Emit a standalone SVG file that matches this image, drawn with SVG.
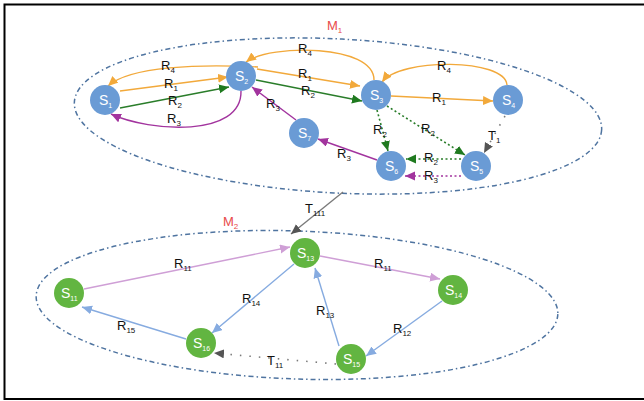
<svg xmlns="http://www.w3.org/2000/svg" width="644" height="401" viewBox="0 0 644 401">
<style>
text{font-family:"Liberation Sans",Arial,sans-serif}
.lbl{font-size:13px;fill:#111}
.sub{font-size:8px}
.nl{font-size:14px;fill:#fff}
.nsub{font-size:7px}
.b{fill:#6a9bd5}
.g{fill:#62b541}
.m{font-size:13px;fill:#e84a4a}
.ell{fill:none;stroke:#4f74a0;stroke-width:1.5;stroke-dasharray:5 3 1.5 3}
.e{fill:none;stroke-width:1.4}
.or{stroke:#f2a93b}
.gr{stroke:#2a7d2a}
.pu{stroke:#a2349e}
.lp{stroke:#cf9fd6}
.lb{stroke:#86abe0}
.gy{stroke:#7a7a7a}
.dot{stroke-dasharray:2 2.5;stroke-width:1.6}
.sp{stroke-dasharray:1.5 8;stroke-width:1.6}
</style>
<defs>
<marker id="aor" markerUnits="userSpaceOnUse" markerWidth="12" markerHeight="10" refX="10" refY="4.5" orient="auto"><path d="M0,0 L10,4.5 L0,9 z" fill="#f2a93b"/></marker>
<marker id="agr" markerUnits="userSpaceOnUse" markerWidth="12" markerHeight="10" refX="10" refY="4.5" orient="auto"><path d="M0,0 L10,4.5 L0,9 z" fill="#1f7a1f"/></marker>
<marker id="apu" markerUnits="userSpaceOnUse" markerWidth="12" markerHeight="10" refX="10" refY="4.5" orient="auto"><path d="M0,0 L10,4.5 L0,9 z" fill="#a2349e"/></marker>
<marker id="alp" markerUnits="userSpaceOnUse" markerWidth="12" markerHeight="10" refX="10" refY="4.5" orient="auto"><path d="M0,0 L10,4.5 L0,9 z" fill="#cf9fd6"/></marker>
<marker id="alb" markerUnits="userSpaceOnUse" markerWidth="12" markerHeight="10" refX="10" refY="4.5" orient="auto"><path d="M0,0 L10,4.5 L0,9 z" fill="#86abe0"/></marker>
<marker id="agy" markerUnits="userSpaceOnUse" markerWidth="12" markerHeight="10" refX="10" refY="4.5" orient="auto"><path d="M0,0 L10,4.5 L0,9 z" fill="#555"/></marker>
</defs>
<rect x="0" y="0" width="644" height="401" fill="#fff"/>
<rect x="4.5" y="4.5" width="650" height="394.5" fill="none" stroke="#000" stroke-width="2"/>
<g id="containers">
<ellipse class="ell" cx="338" cy="116" rx="264" ry="77" transform="rotate(3 338 116)"/>
<ellipse class="ell" cx="297" cy="305" rx="261" ry="74" transform="rotate(2 297 305)"/>
<text class="m" x="327" y="30">M<tspan class="sub" dy="3">1</tspan></text>
<text class="m" x="223" y="226">M<tspan class="sub" dy="3">2</tspan></text>
</g>
<g id="connectors">
<path class="e or" d="M258,67 C200,64 130,66 108,86" marker-end="url(#aor)"/>
<path class="e or" d="M120,91 L228,77" marker-end="url(#aor)"/>
<path class="e gr" d="M120,108 L229,87" marker-end="url(#agr)"/>
<path class="e pu" d="M241,91 C242,138 150,132 111,114" marker-end="url(#apu)"/>
<path class="e or" d="M374,80 C374,44 270,44 246,62" marker-end="url(#aor)"/>
<path class="e or" d="M257,69 L360,86" marker-end="url(#aor)"/>
<path class="e gr" d="M256,80 L362,101" marker-end="url(#agr)"/>
<path class="e or" d="M507,85 C505,58 400,58 382,82" marker-end="url(#aor)"/>
<path class="e or" d="M391,96 L493,101" marker-end="url(#aor)"/>
<path class="e gr dot" d="M377,110 L388,151" marker-end="url(#agr)"/>
<path class="e gr dot" d="M387,106 L465,155" marker-end="url(#agr)"/>
<path class="e gy sp" d="M505,116 L484,153" marker-end="url(#agy)"/>
<path class="e gr dot" d="M461,159 L406,159" marker-end="url(#agr)"/>
<path class="e pu dot" d="M461,176 L405,176" marker-end="url(#apu)"/>
<path class="e pu" d="M377,160 L318,139" marker-end="url(#apu)"/>
<path class="e pu" d="M296,120 L252,87" marker-end="url(#apu)"/>
<path class="e gy" d="M343,192 L291,234" stroke-width="1.2" marker-end="url(#agy)"/>
<path class="e lp" d="M84,289 L290,247" marker-end="url(#alp)"/>
<path class="e lp" d="M320,256 L440,279" marker-end="url(#alp)"/>
<path class="e lb" d="M294,264 L212,333" marker-end="url(#alb)"/>
<path class="e lb" d="M186,339 L82,307" marker-end="url(#alb)"/>
<path class="e lb" d="M339,346 L315,268" marker-end="url(#alb)"/>
<path class="e lb" d="M442,301 L366,356" marker-end="url(#alb)"/>
<path class="e gy sp" d="M336,364 L214,353" marker-end="url(#agy)"/>
</g>
<g id="labels">
<text class="lbl" x="161" y="70">R<tspan class="sub" dy="3">4</tspan></text>
<text class="lbl" x="164" y="88">R<tspan class="sub" dy="3">1</tspan></text>
<text class="lbl" x="168" y="105">R<tspan class="sub" dy="3">2</tspan></text>
<text class="lbl" x="167" y="123">R<tspan class="sub" dy="3">3</tspan></text>
<text class="lbl" x="298" y="53">R<tspan class="sub" dy="3">4</tspan></text>
<text class="lbl" x="298" y="78">R<tspan class="sub" dy="3">1</tspan></text>
<text class="lbl" x="301" y="95">R<tspan class="sub" dy="3">2</tspan></text>
<text class="lbl" x="266" y="108">R<tspan class="sub" dy="3">3</tspan></text>
<text class="lbl" x="437" y="70">R<tspan class="sub" dy="3">4</tspan></text>
<text class="lbl" x="432" y="102">R<tspan class="sub" dy="3">1</tspan></text>
<text class="lbl" x="373" y="134">R<tspan class="sub" dy="3">2</tspan></text>
<text class="lbl" x="421" y="133">R<tspan class="sub" dy="3">2</tspan></text>
<text class="lbl" x="488" y="140">T<tspan class="sub" dy="3">1</tspan></text>
<text class="lbl" x="424" y="162">R<tspan class="sub" dy="3">2</tspan></text>
<text class="lbl" x="424" y="180">R<tspan class="sub" dy="3">3</tspan></text>
<text class="lbl" x="337" y="158">R<tspan class="sub" dy="3">3</tspan></text>
<text class="lbl" x="305" y="213">T<tspan class="sub" dy="3">111</tspan></text>
<text class="lbl" x="174" y="268">R<tspan class="sub" dy="3">11</tspan></text>
<text class="lbl" x="374" y="268">R<tspan class="sub" dy="3">11</tspan></text>
<text class="lbl" x="242" y="303">R<tspan class="sub" dy="3">14</tspan></text>
<text class="lbl" x="117" y="330">R<tspan class="sub" dy="3">15</tspan></text>
<text class="lbl" x="316" y="315">R<tspan class="sub" dy="3">13</tspan></text>
<text class="lbl" x="393" y="333">R<tspan class="sub" dy="3">12</tspan></text>
<text class="lbl" x="267" y="365">T<tspan class="sub" dy="3">11</tspan></text>
</g>
<g id="S1"><circle class="b" cx="105" cy="100" r="15"/><text class="nl" x="99" y="105">S<tspan class="nsub" dy="3">1</tspan></text></g>
<g id="S2"><circle class="b" cx="241" cy="76" r="15"/><text class="nl" x="235" y="81">S<tspan class="nsub" dy="3">2</tspan></text></g>
<g id="S3"><circle class="b" cx="376" cy="95" r="15"/><text class="nl" x="370" y="100">S<tspan class="nsub" dy="3">3</tspan></text></g>
<g id="S4"><circle class="b" cx="508" cy="100" r="15"/><text class="nl" x="502" y="105">S<tspan class="nsub" dy="3">4</tspan></text></g>
<g id="S5"><circle class="b" cx="476" cy="166" r="15"/><text class="nl" x="470" y="171">S<tspan class="nsub" dy="3">5</tspan></text></g>
<g id="S6"><circle class="b" cx="391" cy="166" r="15"/><text class="nl" x="385" y="171">S<tspan class="nsub" dy="3">6</tspan></text></g>
<g id="S7"><circle class="b" cx="304" cy="133" r="15"/><text class="nl" x="298" y="138">S<tspan class="nsub" dy="3">7</tspan></text></g>
<g id="S11"><circle class="g" cx="69" cy="293" r="15"/><text class="nl" x="61" y="298">S<tspan class="nsub" dy="3">11</tspan></text></g>
<g id="S13"><circle class="g" cx="305" cy="253" r="15"/><text class="nl" x="297" y="258">S<tspan class="nsub" dy="3">13</tspan></text></g>
<g id="S14"><circle class="g" cx="453" cy="290" r="15"/><text class="nl" x="445" y="295">S<tspan class="nsub" dy="3">14</tspan></text></g>
<g id="S15"><circle class="g" cx="351" cy="359" r="15"/><text class="nl" x="343" y="364">S<tspan class="nsub" dy="3">15</tspan></text></g>
<g id="S16"><circle class="g" cx="201" cy="343" r="15"/><text class="nl" x="193" y="348">S<tspan class="nsub" dy="3">16</tspan></text></g>
</svg>
